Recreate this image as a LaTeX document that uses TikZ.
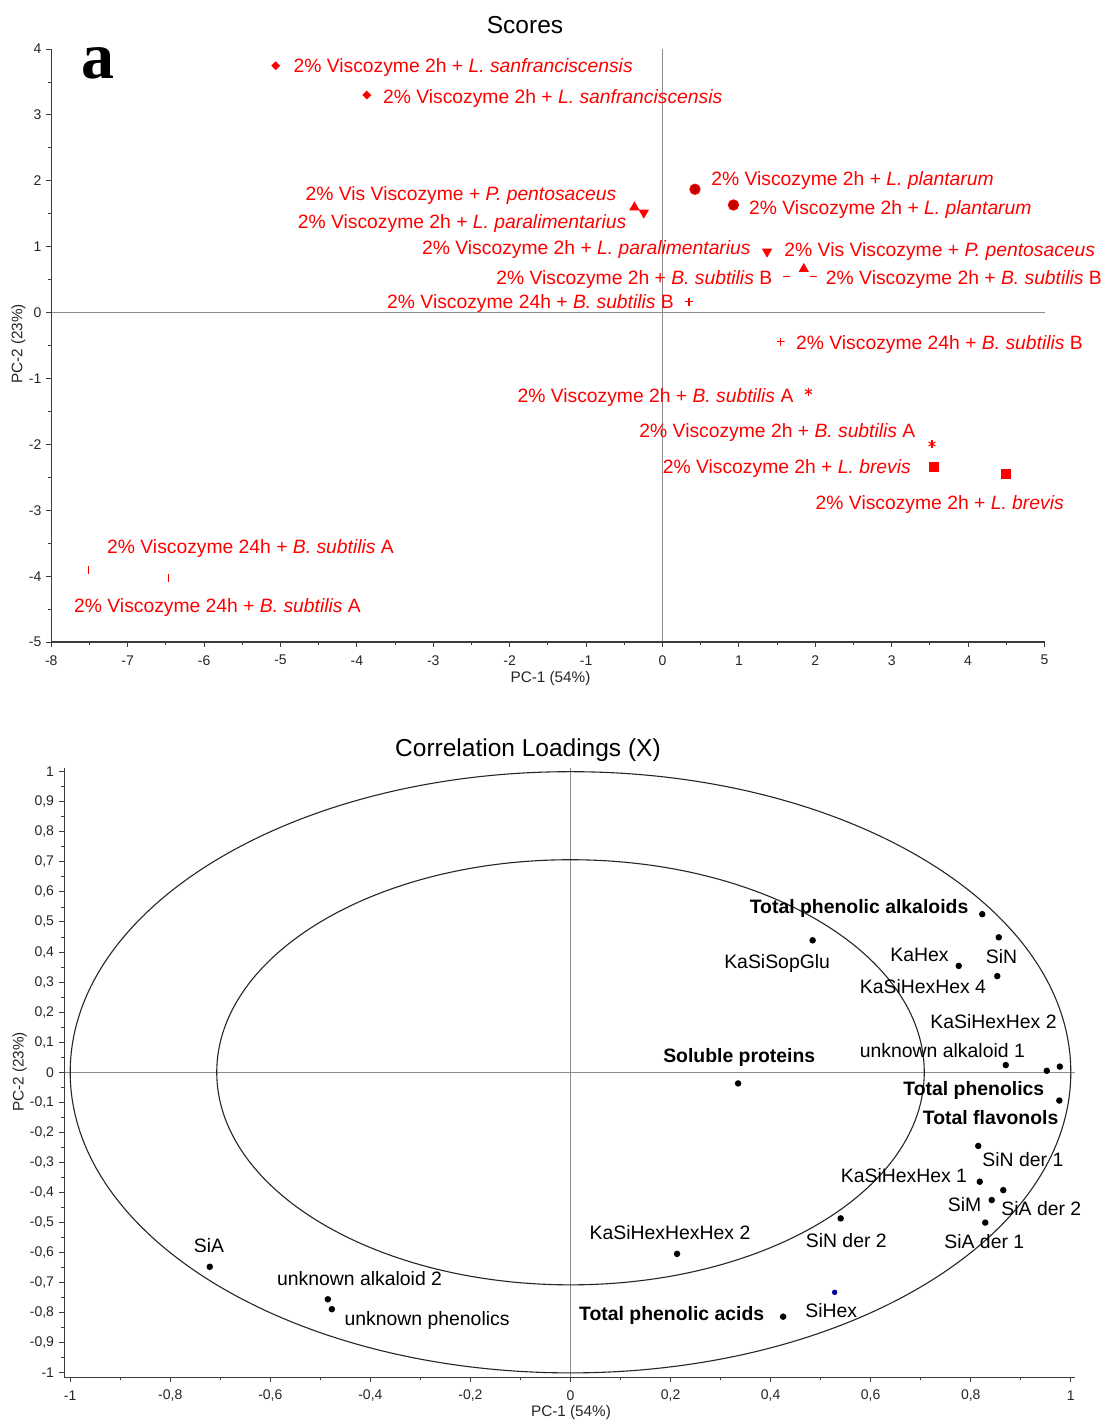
\documentclass[tikz,border=0pt]{standalone}
\usepackage{fontspec}
\setmainfont{Liberation Sans}
\newfontfamily\panelfont{Liberation Serif}
\usetikzlibrary{shapes.geometric, positioning}
\definecolor{scorered} {RGB}{255, 0, 0}
\definecolor{circred}  {RGB}{195, 0, 0}
\definecolor{axisgray} {RGB}{60, 60, 60}
\definecolor{zerogray} {RGB}{140, 140, 140}
\definecolor{dotblue}  {RGB}{0, 0, 150}
\tikzset{
	scorelabel/.style={
		inner sep=0pt, text=scorered,
		font=\fontsize{19.3}{22}\selectfont
	},
	loadlabel/.style={
		inner sep=0pt, text=black,
		font=\fontsize{19.4}{22}\selectfont
	},
	boldlabel/.style={
		loadlabel, font=\fontsize{19.4}{22}\selectfont\bfseries
	},
	ticklabel/.style={
		inner sep=0pt, text=black!85,
		font=\fontsize{14}{16}\selectfont
	},
	axistitle/.style={
		inner sep=0pt, text=black!85,
		font=\fontsize{15.3}{17}\selectfont
	},
	plottitle/.style={
		inner sep=0pt, font=\fontsize{24.5}{28}\selectfont
	},
	axisline/.style={draw=axisgray, line width=1.4pt},
	tickline/.style={draw=axisgray, line width=1pt},
	zeroline/.style={draw=zerogray, line width=0.9pt},
	ringline/.style={draw=black!85, line width=1.1pt},
	diamark/.style={
		diamond, fill=scorered, inner sep=0pt, minimum size=9pt
	},
	circmark/.style={
		circle, fill=circred, draw=scorered, line width=0.8pt,
		inner sep=0pt, minimum size=10.5pt
	},
	upmark/.style={
		regular polygon, regular polygon sides=3, fill=scorered,
		inner sep=0pt, minimum size=12pt
	},
	downmark/.style={upmark, shape border rotate=180},
	sqmark/.style={
		rectangle, fill=scorered, inner sep=0pt, minimum size=10pt
	},
	dashmark/.style={
		rectangle, fill=scorered, inner sep=0pt,
		minimum width=7pt, minimum height=1.2pt
	},
	barmark/.style={
		rectangle, fill=scorered, inner sep=0pt,
		minimum width=1.2pt, minimum height=8pt
	},
	plusmark/.style={
		rectangle, inner sep=0pt, minimum size=8pt,
		path picture={
			\draw[scorered, line width=1.3pt]
			(path picture bounding box.north) -- (path picture bounding box.south)
			(path picture bounding box.west) -- (path picture bounding box.east);
		}
	},
	starmark/.style={
		circle, inner sep=0pt, minimum size=8.5pt,
		path picture={
			\foreach \ang in {90,30,150}
			\draw[scorered, line width=1.1pt]
			([shift={(\ang:4pt)}]path picture bounding box.center) --
			([shift={(\ang+180:4pt)}]path picture bounding box.center);
		}
	},
	loaddot/.style={
		circle, fill=black, inner sep=0pt, minimum size=6.5pt
	},
	bluedot/.style={loaddot, fill=dotblue, minimum size=5.5pt}
}

\begin{document}
\begin{tikzpicture}
	\useasboundingbox (0,0) rectangle (1105pt,1421pt);
	\fill[white] (0,0) rectangle (1105pt,1421pt);
	
	%% ═══════════════════════════════
	%%  TITLES
	%% ═══════════════════════════════
	\node[plottitle] (scoretitle) at (525pt,1396pt) {Scores};
	\node[inner sep=0pt, font=\panelfont\fontsize{66}{70}\selectfont\bfseries]
	(panel) at (98pt,1358pt) {a};
	\node[plottitle] (loadtitle) at (528pt,671pt) {Correlation Loadings (X)};
	
	\node[axistitle] (scorex) at (550.5pt,742.7pt) {PC-1 (54\%)};
	\node[axistitle, rotate=90] (scorey) at (18.3pt,1077pt) {PC-2 (23\%)};
	\node[axistitle] (loadx) at (571pt,8.5pt) {PC-1 (54\%)};
	\node[axistitle, rotate=90] (loady) at (19.6pt,349pt) {PC-2 (23\%)};
	
	%% ═══════════════════════════════
	%%  SCORES  (origin at PC-1 = 0, PC-2 = 0)
	%% ═══════════════════════════════
	\begin{scope}[shift={(662.5pt,1108.3pt)}, x=76.4pt, y=65.9pt]
		% zero lines
		\draw[zeroline] (-8,0) -- (5,0);
		\draw[zeroline] (0,-5) -- (0,4);
		
		% axes
		\draw[axisline] (-8,4) -- (-8,-5) -- (5,-5);
		\foreach \x in {-8,...,5} {
			\draw[tickline] (\x,-5) -- ++(0,-5pt);
			\node[ticklabel, yshift=-18pt] (sx\x) at (\x,-5) {\x};
		}
		\foreach \x in {-7.5,-6.5,...,4.5}
		\draw[tickline] (\x,-5) -- ++(0,-3pt);
		\foreach \y in {-5,...,4} {
			\draw[tickline] (-8,\y) -- ++(-5pt,0);
			\node[ticklabel, anchor=east, xshift=-9.8pt] (sy\y) at (-8,\y) {\y};
		}
		\foreach \y in {-4.5,-3.5,...,3.5}
		\draw[tickline] (-8,\y) -- ++(-3pt,0);
		
		% markers
		\node[diamark]  (dia1) at (-5.063, 3.748) {};
		\node[diamark]  (dia2) at (-3.870, 3.303) {};
		\node[circmark] (cir1) at (0.425, 1.873) {};
		\node[circmark] (cir2) at (0.929, 1.634) {};
		\node[upmark]   (up1)  at (-0.368, 1.599) {};
		\node[downmark] (dn1)  at (-0.245, 1.517) {};
		\node[downmark] (dn2)  at (1.368, 0.926) {};
		\node[upmark]   (up2)  at (1.849, 0.663) {};
		\node[dashmark] (dsh1) at (1.623, 0.546) {};
		\node[dashmark] (dsh2) at (1.982, 0.546) {};
		\node[plusmark] (pls1) at (0.347, 0.167) {};
		\node[plusmark] (pls2) at (1.545, -0.440) {};
		\node[starmark] (str1) at (1.911, -1.199) {};
		\node[starmark] (str2) at (3.527, -1.992) {};
		\node[sqmark]   (sq1)  at (3.550, -2.337) {};
		\node[sqmark]   (sq2)  at (4.496, -2.452) {};
		\node[barmark]  (bar1) at (-7.517, -3.904) {};
		\node[barmark]  (bar2) at (-6.465, -4.021) {};
		
		% sample names
		\node[scorelabel, anchor=mid west] (sanf1) at (-4.832, 3.680)
		{2\% Viscozyme 2h + \textit{L. sanfranciscensis}};
		\node[scorelabel, anchor=mid west] (sanf2) at (-3.660, 3.220)
		{2\% Viscozyme 2h + \textit{L. sanfranciscensis}};
		\node[scorelabel, anchor=mid east] (pent1) at (-0.603, 1.744)
		{2\% Vis Viscozyme + \textit{P. pentosaceus}};
		\node[scorelabel, anchor=mid east] (para1) at (-0.471, 1.313)
		{2\% Viscozyme 2h + \textit{L. paralimentarius}};
		\node[scorelabel, anchor=mid west] (plan1) at (0.637, 1.971)
		{2\% Viscozyme 2h + \textit{L. plantarum}};
		\node[scorelabel, anchor=mid west] (plan2) at (1.132, 1.531)
		{2\% Viscozyme 2h + \textit{L. plantarum}};
		\node[scorelabel, anchor=mid east] (para2) at (1.156, 0.924)
		{2\% Viscozyme 2h + \textit{L. paralimentarius}};
		\node[scorelabel, anchor=mid west] (pent2) at (1.594, 0.899)
		{2\% Vis Viscozyme + \textit{P. pentosaceus}};
		\node[scorelabel, anchor=mid east] (bsb1) at (1.438, 0.463)
		{2\% Viscozyme 2h + \textit{B. subtilis} B};
		\node[scorelabel, anchor=mid west] (bsb2) at (2.137, 0.463)
		{2\% Viscozyme 2h + \textit{B. subtilis} B};
		\node[scorelabel, anchor=mid east] (lbsb1) at (0.151, 0.099)
		{2\% Viscozyme 24h + \textit{B. subtilis} B};
		\node[scorelabel, anchor=mid west] (lbsb2) at (1.747, -0.523)
		{2\% Viscozyme 24h + \textit{B. subtilis} B};
		\node[scorelabel, anchor=mid east] (bsa1) at (1.716, -1.317)
		{2\% Viscozyme 2h + \textit{B. subtilis} A};
		\node[scorelabel, anchor=mid west] (bsa2) at (-0.304, -1.848)
		{2\% Viscozyme 2h + \textit{B. subtilis} A};
		\node[scorelabel, anchor=mid east] (brev1) at (3.253, -2.394)
		{2\% Viscozyme 2h + \textit{L. brevis}};
		\node[scorelabel, anchor=mid west] (brev2) at (2.003, -2.951)
		{2\% Viscozyme 2h + \textit{L. brevis}};
		\node[scorelabel, anchor=mid west] (lbsa1) at (-7.271, -3.619)
		{2\% Viscozyme 24h + \textit{B. subtilis} A};
		\node[scorelabel, anchor=mid west] (lbsa2) at (-7.703, -4.503)
		{2\% Viscozyme 24h + \textit{B. subtilis} A};
	\end{scope}
	
	%% ═══════════════════════════════
	%%  CORRELATION LOADINGS
	%% ═══════════════════════════════
	\begin{scope}[shift={(570.5pt,348.7pt)}, x=500.3pt, y=300.6pt]
		% zero lines
		\draw[zeroline] (-1.012,0) -- (1.009,0);
		\draw[zeroline] (0,-1.015) -- (0,1.013);
		
		% 100% and 50% explained variance
		\draw[ringline] (0,0) ellipse [x radius=1, y radius=1];
		\draw[ringline] (0,0) ellipse [x radius=0.7071, y radius=0.7071];
		
		% axes
		\draw[axisline] (-1.012,1.013) -- (-1.012,-1.015) -- (1.009,-1.015);
		\foreach \x/\lab [count=\i] in {-1/-1, -0.8/{-0,8}, -0.6/{-0,6},
			-0.4/{-0,4}, -0.2/{-0,2}, 0/0, 0.2/{0,2}, 0.4/{0,4},
			0.6/{0,6}, 0.8/{0,8}, 1/1} {
			\draw[tickline] (\x,-1.015) -- ++(0,-5pt);
			\node[ticklabel, yshift=-18.3pt] (lx\i) at (\x,-1.015) {\lab};
		}
		\foreach \x in {-0.9,-0.7,-0.5,-0.3,-0.1,0.1,0.3,0.5,0.7,0.9}
		\draw[tickline] (\x,-1.015) -- ++(0,-3pt);
		\foreach \y/\lab [count=\i] in {-1/-1, -0.9/{-0,9}, -0.8/{-0,8},
			-0.7/{-0,7}, -0.6/{-0,6}, -0.5/{-0,5}, -0.4/{-0,4}, -0.3/{-0,3},
			-0.2/{-0,2}, -0.1/{-0,1}, 0/0, 0.1/{0,1}, 0.2/{0,2}, 0.3/{0,3},
			0.4/{0,4}, 0.5/{0,5}, 0.6/{0,6}, 0.7/{0,7}, 0.8/{0,8},
			0.9/{0,9}, 1/1} {
			\draw[tickline] (-1.012,\y) -- ++(-5pt,0);
			\node[ticklabel, anchor=east, xshift=-10pt] (ly\i) at (-1.012,\y) {\lab};
		}
		\foreach \y in {-0.95,-0.85,...,0.96}
		\draw[tickline] (-1.012,\y) -- ++(-3pt,0);
		
		% variables
		\node[loaddot] (tpalk)   at (0.823, 0.526) {};
		\node[loaddot] (sopglu)  at (0.484, 0.439) {};
		\node[loaddot] (kahex)   at (0.776, 0.354) {};
		\node[loaddot] (sin)     at (0.856, 0.449) {};
		\node[loaddot] (hh4)     at (0.853, 0.320) {};
		\node[loaddot] (ualk1)   at (0.870, 0.024) {};
		\node[loaddot] (hh2)     at (0.952, 0.005) {};
		\node[loaddot] (tphen)   at (0.978, 0.019) {};
		\node[loaddot] (solprot) at (0.335, -0.037) {};
		\node[loaddot] (tflav)   at (0.977, -0.094) {};
		\node[loaddot] (sinder1) at (0.815, -0.245) {};
		\node[loaddot] (hh1)     at (0.818, -0.364) {};
		\node[loaddot] (siader2) at (0.865, -0.392) {};
		\node[loaddot] (sim)     at (0.842, -0.425) {};
		\node[loaddot] (siader1) at (0.829, -0.500) {};
		\node[loaddot] (sinder2) at (0.540, -0.486) {};
		\node[loaddot] (hhh2)    at (0.213, -0.604) {};
		\node[bluedot] (sihex)   at (0.528, -0.732) {};
		\node[loaddot] (tpacid)  at (0.425, -0.813) {};
		\node[loaddot] (sia)     at (-0.721, -0.647) {};
		\node[loaddot] (ualk2)   at (-0.485, -0.755) {};
		\node[loaddot] (uphen)   at (-0.477, -0.788) {};
		
		% variable names
		\node[boldlabel, anchor=mid west] (tpalklab)   at (0.358, 0.536) {Total phenolic alkaloids};
		\node[loadlabel, anchor=mid west] (sopglulab)  at (0.307, 0.355) {KaSiSopGlu};
		\node[loadlabel, anchor=mid west] (kahexlab)   at (0.639, 0.379) {KaHex};
		\node[loadlabel, anchor=mid west] (sinlab)     at (0.830, 0.372) {SiN};
		\node[loadlabel, anchor=mid west] (hh4lab)     at (0.578, 0.272) {KaSiHexHex 4};
		\node[loadlabel, anchor=mid west] (hh2lab)     at (0.719, 0.153) {KaSiHexHex 2};
		\node[loadlabel, anchor=mid west] (ualk1lab)   at (0.578, 0.059) {unknown alkaloid 1};
		\node[boldlabel, anchor=mid west] (solprotlab) at (0.185, 0.040) {Soluble proteins};
		\node[boldlabel, anchor=mid west] (tphenlab)   at (0.665, -0.068) {Total phenolics};
		\node[boldlabel, anchor=mid west] (tflavlab)   at (0.704, -0.165) {Total flavonols};
		\node[loadlabel, anchor=mid west] (sinder1lab) at (0.823, -0.304) {SiN der 1};
		\node[loadlabel, anchor=mid west] (hh1lab)     at (0.540, -0.357) {KaSiHexHex 1};
		\node[loadlabel, anchor=mid west] (simlab)     at (0.754, -0.453) {SiM};
		\node[loadlabel, anchor=mid west] (siader2lab) at (0.861, -0.467) {SiA der 2};
		\node[loadlabel, anchor=mid west] (siader1lab) at (0.747, -0.579) {SiA der 1};
		\node[loadlabel, anchor=mid west] (sinder2lab) at (0.470, -0.575) {SiN der 2};
		\node[loadlabel, anchor=mid west] (hhh2lab)    at (0.038, -0.547) {KaSiHexHexHex 2};
		\node[loadlabel, anchor=mid west] (sihexlab)   at (0.469, -0.806) {SiHex};
		\node[boldlabel, anchor=mid west] (tpacidlab)  at (0.017, -0.817) {Total phenolic acids};
		\node[loadlabel, anchor=mid west] (sialab)     at (-0.753, -0.590) {SiA};
		\node[loadlabel, anchor=mid west] (ualk2lab)   at (-0.587, -0.700) {unknown alkaloid 2};
		\node[loadlabel, anchor=mid west] (uphenlab)   at (-0.452, -0.833) {unknown phenolics};
	\end{scope}
\end{tikzpicture}
\end{document}
